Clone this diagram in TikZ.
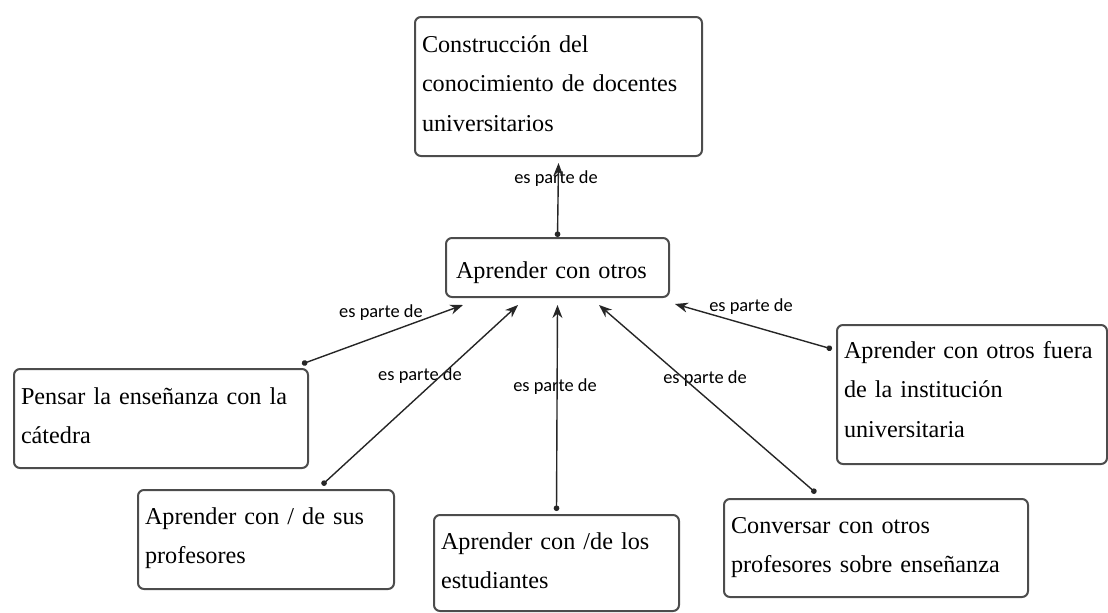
\documentclass[tikz,border=0pt]{standalone}
\usepackage{fontspec}
\setmainfont{Liberation Serif}
\newfontfamily\etiqfont{Carlito}
\usetikzlibrary{arrows.meta}

\begin{document}
\begin{tikzpicture}[x=0.5pt, y=-0.5pt,
    concepto/.style n args={3}{draw=black!70, line width=1pt, rounded corners=3pt,
        anchor=north west, align=left, inner xsep=3.5pt, inner ysep=0pt,
        text width=#1, text height=#2, text depth=#3,
        font=\fontsize{12.1}{19.75}\selectfont},
    etiqueta/.style={font=\etiqfont\fontsize{9.2}{10}\selectfont, inner sep=0pt},
    relacion/.style={line width=0.7pt, black!85,
        {Circle[length=2.8pt]}-{Stealth[length=6.5pt, width=5pt]}}]
       \useasboundingbox (0,0) rectangle (1108,612);

       \node[concepto={136.5pt}{17.5pt}{52pt}] (cons) at (414,16) {Construcción del\\conocimiento de docentes\\universitarios};
       \node[concepto={101.5pt}{20pt}{9.5pt}, inner xsep=5pt] (otros) at (445,237) {Aprender con otros};
       \node[concepto={140pt}{17.5pt}{32pt}] (pensar) at (13,368) {Pensar la enseñanza con la\\cátedra};
       \node[concepto={121pt}{17pt}{32.5pt}] (profes) at (137,489) {Aprender con / de sus\\profesores};
       \node[concepto={115.5pt}{17pt}{31pt}] (estud) at (433,514) {Aprender con /de los\\estudiantes};
       \node[concepto={145pt}{17pt}{32pt}] (conver) at (723,498) {Conversar con otros\\profesores sobre enseñanza};
       \node[concepto={128pt}{16.5pt}{53pt}] (fuera) at (836,324) {Aprender con otros fuera\\de la institución\\universitaria};

       \node[etiqueta] (e0) at (556,179) {es parte de};
       \node[etiqueta] (e1) at (381,313) {es parte de};
       \node[etiqueta] (e2) at (420,376) {es parte de};
       \node[etiqueta] (e3) at (555,387) {es parte de};
       \node[etiqueta] (e4) at (705,379) {es parte de};
       \node[etiqueta] (e5) at (751,307) {es parte de};

       \draw[relacion] (otros.north) -- ([yshift=-3pt]cons.south);
       \draw[relacion] ([shift={(-3.5pt,2pt)}]pensar.north east) -- ([shift={(9pt,-3.5pt)}]otros.south west);
       \draw[relacion] ([shift={(92.5pt,2pt)}]profes.north west) -- ([shift={(36.5pt,-3.5pt)}]otros.south west);
       \draw[relacion] ([yshift=1.5pt]estud.north) -- ([yshift=-3.5pt]otros.south);
       \draw[relacion] ([shift={(46.5pt,2.5pt)}]conver.north west) -- ([shift={(20.75pt,-3.5pt)}]otros.south);
       \draw[relacion] ([shift={(-2pt,-12.5pt)}]fuera.north west) -- ([shift={(2.5pt,-3pt)}]otros.south east);
    \end{tikzpicture}
\end{document}
